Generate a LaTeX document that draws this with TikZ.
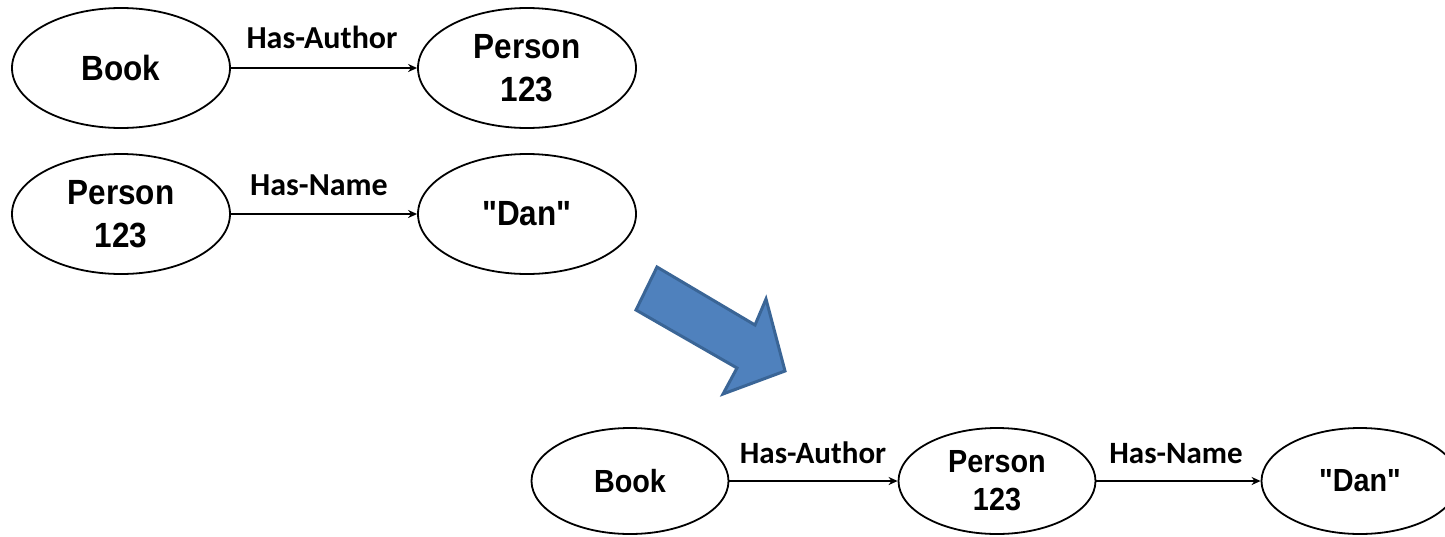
\documentclass[tikz,border=0pt]{standalone}
\usepackage{fontspec}
\setmainfont{Liberation Sans}[FakeStretch=0.9,Ligatures=TeXOff]
\newfontfamily\labelfont{Carlito}
\usetikzlibrary{shapes.geometric,arrows.meta}
\definecolor{arrowfill}{HTML}{4F81BD}
\definecolor{arrowedge}{HTML}{3A6596}
\begin{document}
\begin{tikzpicture}[x=1pt,y=-1pt,
  concept/.style={ellipse,draw=black,line width=1.8pt,inner sep=0pt,
    align=center,font=\fontsize{35}{43}\selectfont\bfseries},
  bigc/.style={concept,minimum width=218pt,minimum height=120pt},
  smallc/.style={concept,minimum width=197pt,minimum height=106pt,
    font=\fontsize{32}{38}\selectfont\bfseries},
  rel/.style={line width=2pt,-{Stealth[length=9pt,width=8pt]}},
  rellabel/.style={font=\labelfont\fontsize{32}{34}\selectfont\bfseries,
    inner sep=0pt,anchor=base},
  smallrel/.style={rellabel,font=\labelfont\fontsize{31}{33}\selectfont\bfseries}]
\useasboundingbox (0,0) rectangle (1445,536);

% first fact: Book has-author Person 123
\node[bigc] (b1) at (121,68) {Book};
\node[bigc] (p1) at (527,68) {Person\\123};
\draw[rel] (b1) -- (p1);
\node[rellabel] (l1) at (322,48) {Has-Author};

% second fact: Person 123 has-name "Dan"
\node[bigc] (p2) at (121,214) {Person\\123};
\node[bigc] (d2) at (527,214) {"Dan"};
\draw[rel] (p2) -- (d2);
\node[rellabel] (l2) at (319,195) {Has-Name};

% block arrow between the two stages
\draw[fill=arrowfill,draw=arrowedge,line width=3pt,line join=miter]
  (657,267) -- (636,310) -- (737,368) -- (723,394) -- (785,371)
  -- (766,299) -- (755,325) -- cycle;

% combined path
\node[smallc] (b3) at (630,481) {Book};
\node[smallc] (p3) at (997,481) {Person\\123};
\node[smallc] (d3) at (1360,481) {"Dan"};
\draw[rel] (b3) -- (p3);
\draw[rel] (p3) -- (d3);
\node[smallrel] (l3) at (813,463) {Has-Author};
\node[smallrel] (l4) at (1176,463) {Has-Name};
\end{tikzpicture}
\end{document}
